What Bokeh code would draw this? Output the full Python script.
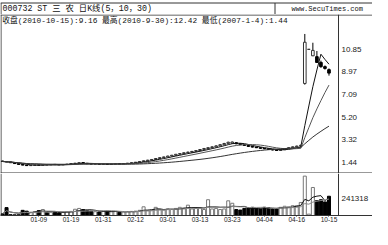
import pandas as pd
from bokeh.plotting import figure
from bokeh.layouts import column
from bokeh.models import Range1d, Span, FixedTicker, ColumnDataSource
from bokeh.core.properties import value
from bokeh.embed import file_html
from bokeh.resources import INLINE

# ---------------- data ----------------
dates = ["12-22", "12-25", "12-26", "12-27", "12-28", "12-29",
         "01-04", "01-05", "01-08", "01-09", "01-10", "01-11", "01-12", "01-15", "01-16", "01-17", "01-18", "01-19",
         "01-22", "01-23", "01-24", "01-25", "01-26", "01-29", "01-30", "01-31",
         "02-01", "02-02", "02-05", "02-06", "02-07", "02-08", "02-09", "02-12", "02-13", "02-14", "02-15", "02-16",
         "02-26", "02-27", "02-28", "03-01", "03-02", "03-05", "03-06", "03-07", "03-08", "03-09", "03-12", "03-13",
         "03-14", "03-15", "03-16", "03-19", "03-20", "03-21", "03-22", "03-23", "03-26", "03-27", "03-28", "03-29",
         "03-30", "04-02", "04-03", "04-04", "04-05", "04-06", "04-09", "04-10", "04-11", "04-12", "04-13", "04-16",
         "04-17", "09-30", "10-08", "10-11", "10-12", "10-13", "10-14", "10-15"]

opens = [1.84, 1.80, 1.76, 1.70, 1.63, 1.56, 1.50, 1.46, 1.49, 1.52, 1.50, 1.54, 1.52, 1.56, 1.54, 1.52, 1.55, 1.58,
         1.63, 1.66, 1.71, 1.65, 1.61, 1.59, 1.60, 1.58, 1.60, 1.57, 1.59, 1.62, 1.60, 1.63, 1.66, 1.70, 1.74, 1.80,
         1.86, 1.91, 1.97, 2.05, 2.13, 2.18, 2.26, 2.32, 2.41, 2.46, 2.54, 2.58, 2.65, 2.71, 2.81, 2.88, 2.96, 3.02,
         3.11, 3.20, 3.31, 3.33, 3.36, 3.28, 3.20, 3.14, 3.06, 3.00, 2.95, 2.90, 2.86, 2.80, 2.76, 2.72, 2.78, 2.86,
         2.95, 3.02, 3.08, 8.30, 11.14, 10.60, 10.53, 10.05, 9.70, 9.45]
highs = [1.86, 1.82, 1.77, 1.71, 1.64, 1.57, 1.51, 1.50, 1.53, 1.53, 1.55, 1.55, 1.57, 1.57, 1.55, 1.57, 1.60, 1.65,
         1.68, 1.73, 1.72, 1.66, 1.63, 1.62, 1.61, 1.62, 1.61, 1.61, 1.64, 1.63, 1.65, 1.68, 1.72, 1.76, 1.82, 1.88,
         1.94, 2.00, 2.07, 2.15, 2.20, 2.28, 2.35, 2.43, 2.50, 2.56, 2.62, 2.68, 2.75, 2.84, 2.93, 3.00, 3.08, 3.15,
         3.25, 3.35, 3.45, 3.46, 3.38, 3.31, 3.24, 3.16, 3.09, 3.03, 2.98, 2.92, 2.88, 2.83, 2.78, 2.81, 2.90, 2.99,
         3.06, 3.12, 3.20, 12.42, 11.14, 11.69, 11.00, 10.20, 9.80, 9.55]
lows = [1.78, 1.75, 1.70, 1.63, 1.56, 1.49, 1.44, 1.45, 1.48, 1.48, 1.49, 1.50, 1.51, 1.52, 1.50, 1.51, 1.54, 1.57,
        1.61, 1.65, 1.63, 1.59, 1.57, 1.57, 1.56, 1.57, 1.55, 1.56, 1.58, 1.58, 1.59, 1.62, 1.65, 1.69, 1.73, 1.79,
        1.84, 1.90, 1.96, 2.03, 2.09, 2.16, 2.23, 2.30, 2.37, 2.44, 2.51, 2.55, 2.62, 2.69, 2.78, 2.85, 2.92, 3.00,
        3.08, 3.18, 3.28, 3.30, 3.24, 3.17, 3.10, 3.02, 2.97, 2.92, 2.87, 2.83, 2.77, 2.73, 2.69, 2.70, 2.76, 2.84,
        2.92, 3.00, 3.05, 8.20, 11.14, 10.58, 10.00, 9.60, 9.45, 8.95]
closes = [1.80, 1.76, 1.70, 1.63, 1.56, 1.50, 1.46, 1.49, 1.51, 1.50, 1.53, 1.52, 1.55, 1.54, 1.52, 1.55, 1.58, 1.63,
          1.66, 1.70, 1.65, 1.61, 1.59, 1.60, 1.58, 1.60, 1.57, 1.59, 1.62, 1.60, 1.63, 1.66, 1.70, 1.74, 1.80, 1.86,
          1.91, 1.97, 2.05, 2.12, 2.18, 2.25, 2.32, 2.40, 2.46, 2.53, 2.58, 2.64, 2.71, 2.80, 2.88, 2.95, 3.02, 3.10,
          3.20, 3.30, 3.40, 3.42, 3.28, 3.20, 3.14, 3.06, 3.00, 2.95, 2.90, 2.86, 2.80, 2.76, 2.72, 2.78, 2.86, 2.95,
          3.02, 3.08, 3.15, 11.73, 11.14, 11.05, 10.05, 9.70, 9.55, 9.16]
volumes = [30000, 145000, 15000, 12000, 14000, 95000, 80000, 60000, 70000, 90000, 110000, 55000, 60000, 65000,
           50000, 60000, 70000, 75000, 115000, 130000, 110000, 90000, 80000, 70000, 65000, 75000, 80000, 70000,
           75000, 60000, 65000, 70000, 75000, 80000, 95000, 160000, 90000, 100000, 150000, 110000, 100000, 120000,
           110000, 130000, 150000, 140000, 190000, 120000, 130000, 140000, 110000, 290000, 120000, 130000, 110000,
           120000, 270000, 225000, 110000, 100000, 130000, 140000, 150000, 130000, 120000, 150000, 140000, 130000,
           120000, 150000, 170000, 160000, 180000, 180000, 240000, 724000, 25000, 515000, 273000, 290000, 250000,
           354000]

ma_periods = [5, 10, 30]
price_levels = [1.44, 3.32, 5.20, 7.09, 8.97, 10.85]
vol_level = 241318
tick_dates = ["01-09", "01-19", "01-31", "02-12", "03-01", "03-13", "03-23", "04-04", "04-16", "10-15"]

title_text = "000732  ST 三 农  日K线(5，10，30)"
site_text = "www.SecuTimes.com"
info_text = "收盘(2010-10-15):9.16 最高(2010-9-30):12.42 最低(2007-1-4):1.44"

# ---------------- derived ----------------
df = pd.DataFrame(dict(o=opens, h=highs, l=lows, c=closes, v=volumes))
df["x"] = range(len(df))
df["up"] = df.c >= df.o
for n in ma_periods:
    df[f"ma{n}"] = df.c.rolling(n, min_periods=1).mean()
df["vma5"] = df.v.rolling(5, min_periods=1).mean()
df["vma10"] = df.v.rolling(10, min_periods=1).mean()

up = ColumnDataSource(df[df.up])
dn = ColumnDataSource(df[~df.up])
src = ColumnDataSource(df)

MONO = value("'Liberation Mono', 'Noto Sans CJK SC'")
FRAME = "#333333"
GRID = "#555555"

W = 372
X0, XD = -0.5, 83.36
BW = 338 / (XD - X0)          # pixels per bar
X1 = X0 + W / BW
xr = Range1d(X0, X1)
XL = X0 + 0.5 / BW            # left border position
XT = X0 + 341 / BW            # right-side label position

# ---------------- header ----------------
ph = figure(width=W, height=14, x_range=Range1d(0, W), y_range=Range1d(0, 14),
            x_axis_type=None, y_axis_type=None, toolbar_location=None, output_backend="svg",
            min_border=0, outline_line_color=None)
ph.grid.visible = False
ph.segment(x0=[0, 0.5, 274.5], y0=[11.5, 0, 0], x1=[W, 0.5, 274.5], y1=[11.5, 11.5, 11.5],
           line_color=FRAME, line_width=1)
ph.text(x=[2], y=[5.8], text=[title_text], text_font=MONO, text_font_size="8.3px",
        text_baseline="middle", text_color="#111111")
ph.text(x=[291], y=[5.8], text=[site_text], text_font=MONO, text_font_size="7px",
        text_baseline="middle", text_color="#111111")

# ---------------- price panel ----------------
PY0, PY1 = 0.802, 14.04
PH = 159
ppu = PH / (PY1 - PY0)
pp = figure(width=W, height=PH, x_range=xr, y_range=Range1d(PY0, PY1),
            x_axis_type=None, y_axis_type=None, toolbar_location=None, output_backend="svg",
            min_border=0, outline_line_color=None)
pp.xgrid.visible = False
pp.ygrid.ticker = FixedTicker(ticks=price_levels)
pp.ygrid.grid_line_color = GRID
pp.ygrid.grid_line_dash = "1 2"
pp.ygrid.grid_line_width = 1

pp.segment(x0="x", y0="h", x1="x", y1="l", source=src, line_color="#000000", line_width=1)
pp.vbar(x="x", top="c", bottom="o", width=0.65, source=up, fill_color="#ffffff", line_color="#333333")
pp.vbar(x="x", top="o", bottom="c", width=0.65, source=dn, fill_color="#000000", line_color="#000000")
ma_colors = ["#111111", "#555555", "#333333"]
for n, col in zip(ma_periods, ma_colors):
    pp.line(x="x", y=f"ma{n}", source=src, line_color=col, line_width=1)

for lv in price_levels:
    pp.text(x=[XT], y=[lv], text=[f"{lv:.2f}"], text_font=value("Liberation Sans"),
            text_font_size="8px", text_baseline="bottom", text_color="#222222", y_offset=-1)
pp.text(x=[XL + 0.3], y=[PY1 - 6.5 / ppu], text=[info_text], text_font=MONO, text_font_size="7.8px",
        text_baseline="middle", text_color="#111111")

pp.add_layout(Span(location=XD, dimension="height", line_color=FRAME, line_width=1))
pp.add_layout(Span(location=XL, dimension="height", line_color=FRAME, line_width=1))
pp.add_layout(Span(location=PY1 - 0.5 / ppu, dimension="width", line_color=FRAME, line_width=1))
pp.add_layout(Span(location=PY0 + 0.5 / ppu, dimension="width", line_color=FRAME, line_width=1))

# ---------------- volume panel ----------------
pv = figure(width=W, height=51, x_range=xr, y_range=Range1d(0, 772218),
            y_axis_type=None, toolbar_location=None, output_backend="svg",
            min_border=0, outline_line_color=None)
pv.xgrid.visible = False
pv.ygrid.ticker = FixedTicker(ticks=[vol_level])
pv.ygrid.grid_line_color = GRID
pv.ygrid.grid_line_dash = "1 2"
pv.vbar(x="x", top="v", bottom=0, width=0.75, source=up, fill_color="#ffffff", line_color="#777777")
pv.vbar(x="x", top="v", bottom=0, width=0.75, source=dn, fill_color="#000000", line_color="#000000")
pv.line(x="x", y="vma5", source=src, line_color="#111111", line_width=1)
pv.line(x="x", y="vma10", source=src, line_color="#888888", line_width=1)
pv.text(x=[XT], y=[vol_level], text=[f"{vol_level}"], text_font=value("Liberation Sans"),
        text_font_size="8px", text_baseline="bottom", text_color="#222222", y_offset=-1)
pv.add_layout(Span(location=XD, dimension="height", line_color=FRAME, line_width=1))
pv.add_layout(Span(location=XL, dimension="height", line_color=FRAME, line_width=1))

tick_idx = [dates.index(d) for d in tick_dates]
ax = pv.xaxis[0]
ax.ticker = FixedTicker(ticks=tick_idx)
ax.major_label_overrides = {i: dates[i] for i in tick_idx}
ax.major_label_text_font = "Liberation Sans"
ax.major_label_text_font_size = "6.5px"
ax.major_label_text_color = "#222222"
ax.major_label_standoff = 0
ax.major_tick_in = 0
ax.major_tick_out = 1
ax.minor_tick_line_color = None
ax.axis_line_color = FRAME
ax.major_tick_line_color = FRAME

layout = column(ph, pp, pv, spacing=0)
open("out.html", "w").write(file_html(layout, INLINE))
